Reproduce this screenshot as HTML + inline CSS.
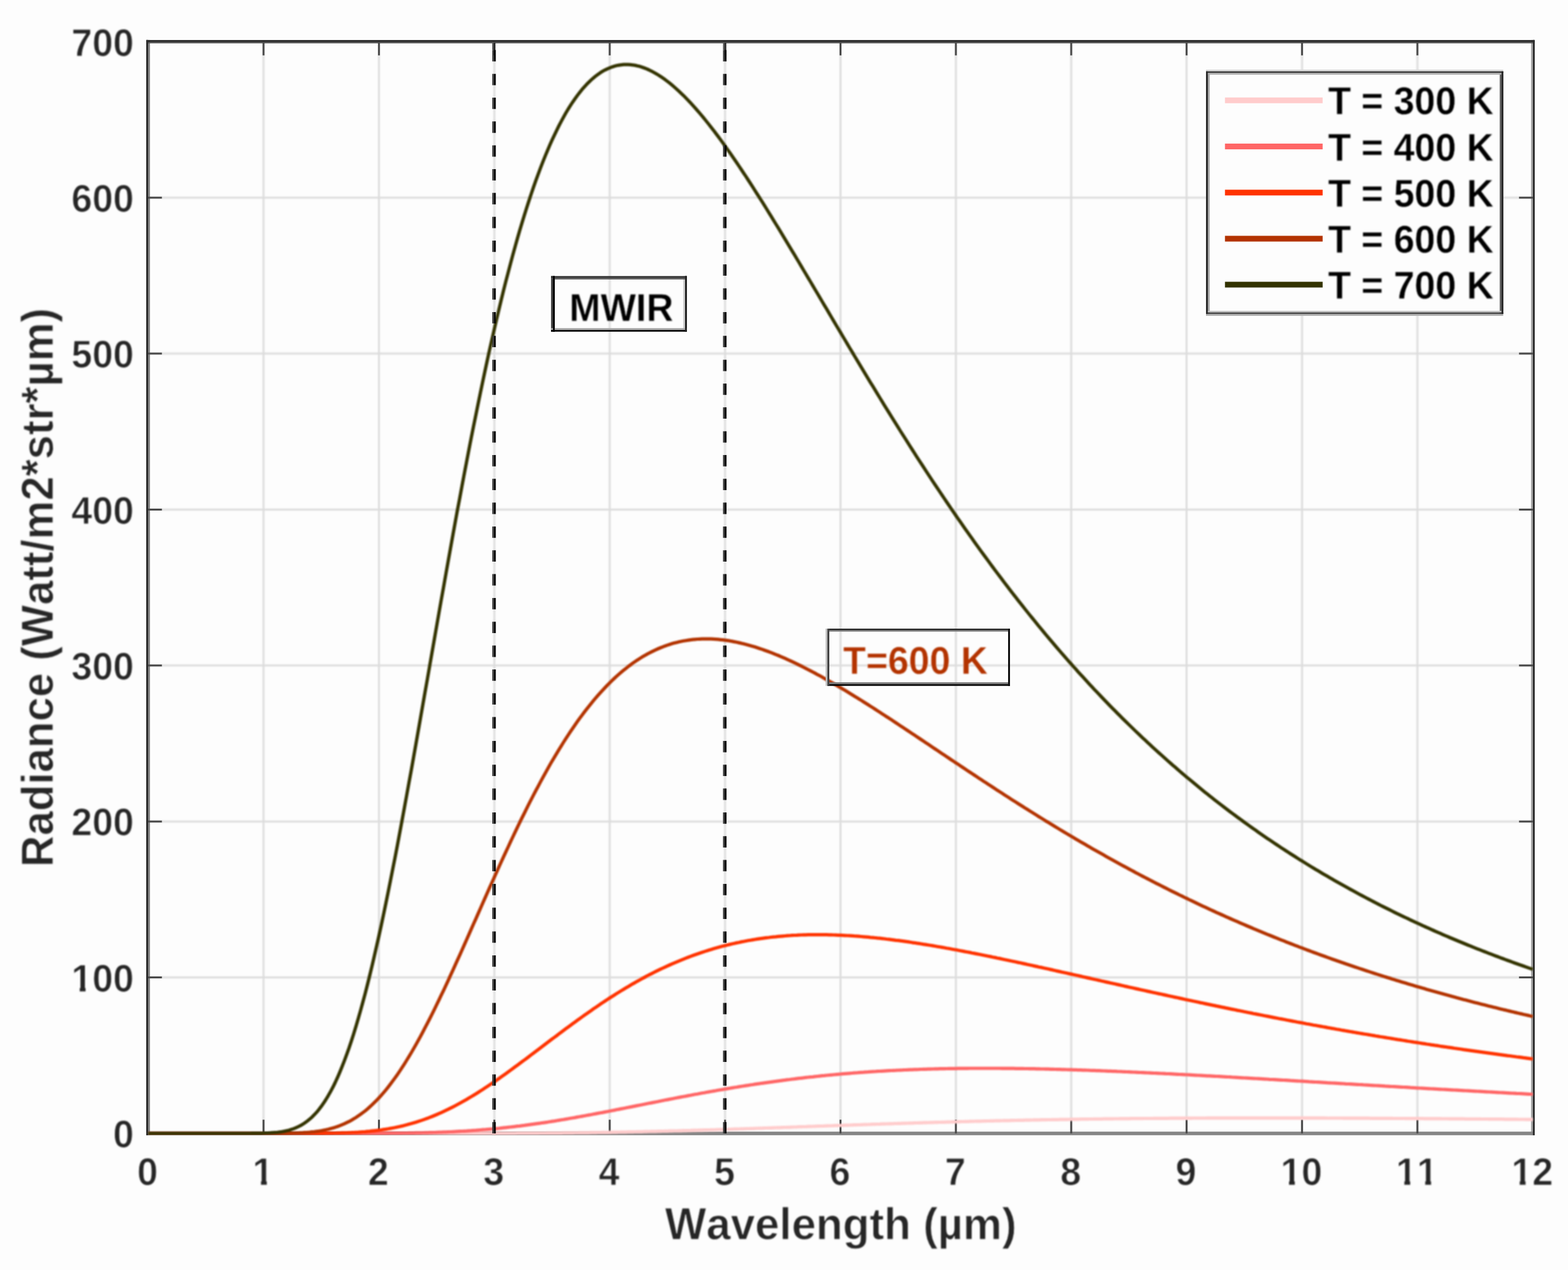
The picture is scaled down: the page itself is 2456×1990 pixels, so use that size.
<!DOCTYPE html>
<html lang="en">
<head>
<meta charset="utf-8">
<title>Blackbody radiance vs wavelength</title>
<style>
html,body{margin:0;padding:0;background:#fdfdfd;}
body{width:2456px;height:1990px;overflow:hidden;}
svg{display:block;}
text{font-family:"Liberation Sans",sans-serif;font-weight:bold;font-kerning:none;}
text{stroke-linejoin:round;}
.tk{font-size:58.8px;fill:#262626;stroke:#fdfdfd;stroke-width:1px;}
.lb{font-size:68.7px;fill:#262626;stroke:#fdfdfd;stroke-width:1px;}
.lg{font-size:58.7px;fill:#000;stroke:#fdfdfd;stroke-width:0.5px;}
.an{font-size:58.7px;stroke:#fdfdfd;stroke-width:0.5px;}
.sf{filter:blur(1px);}
</style>
</head>
<body>
<svg width="2456" height="1990" viewBox="0 0 2456 1990">
<defs><clipPath id="c1"><rect x="-21.4" y="-58.8" width="42.7" height="51.1"/><rect x="-3.1" y="-8.7" width="9.1" height="15.7"/></clipPath><clipPath id="c10"><rect x="-37.7" y="-58.8" width="75.4" height="51.1"/><rect x="-19.5" y="-8.7" width="9.1" height="15.7"/><rect x="-0.5" y="-8.7" width="33.7" height="15.7"/></clipPath><clipPath id="c11"><rect x="-37.7" y="-58.8" width="75.4" height="51.1"/><rect x="-19.5" y="-8.7" width="9.1" height="15.7"/><rect x="13.2" y="-8.7" width="9.1" height="15.7"/></clipPath><clipPath id="c12"><rect x="-37.7" y="-58.8" width="75.4" height="51.1"/><rect x="-19.5" y="-8.7" width="9.1" height="15.7"/><rect x="-0.5" y="-8.7" width="33.7" height="15.7"/></clipPath><clipPath id="c100"><rect x="-103.1" y="-58.8" width="108.1" height="51.1"/><rect x="-84.9" y="-8.7" width="9.1" height="15.7"/><rect x="-65.9" y="-8.7" width="33.7" height="15.7"/><rect x="-33.2" y="-8.7" width="33.7" height="15.7"/></clipPath></defs>
<defs><clipPath id="pc"><rect x="229.1" y="62.3" width="2174.5" height="1716.5"/></clipPath></defs>
<rect x="0" y="0" width="2456" height="1990" fill="#fdfdfd"/>
<rect x="232.1" y="65.3" width="2168.7" height="1710.7" fill="#fdfdfd"/>
<path id="grid" class="sf" d="M412.8 65.3V1776M593.6 65.3V1776M774.3 65.3V1776M955 65.3V1776M1135.7 65.3V1776M1316.5 65.3V1776M1497.2 65.3V1776M1677.9 65.3V1776M1858.6 65.3V1776M2039.4 65.3V1776M2220.1 65.3V1776M232.1 1531.6H2400.8M232.1 1287.2H2400.8M232.1 1042.8H2400.8M232.1 798.5H2400.8M232.1 554.1H2400.8M232.1 309.7H2400.8" stroke="#dcdcdc" stroke-width="3" fill="none"/>
<g id="axes">
<rect x="229.1" y="62.8" width="3" height="1716" fill="#2c2c2c"/><rect x="232.1" y="62.8" width="2.9" height="1716" fill="#888"/><rect x="2398" y="62.8" width="3" height="1716" fill="#a8a8a8"/><rect x="2401" y="62.8" width="2.7" height="1716" fill="#2c2c2c"/><rect x="229.1" y="62.8" width="2174.6" height="3" fill="#1e1e1e"/><rect x="229.1" y="65.8" width="2174.6" height="2.1" fill="#555"/><rect x="229.1" y="1773.2" width="2174.6" height="5.6" fill="#868686"/><rect x="229.1" y="62.8" width="3" height="1716" fill="#2c2c2c"/><rect x="2401" y="62.8" width="2.7" height="1716" fill="#2c2c2c"/>
<path id="ticks" d="M412.8 1776v-21.5M412.8 65.3v21.5M593.6 1776v-21.5M593.6 65.3v21.5M774.3 1776v-21.5M774.3 65.3v21.5M955 1776v-21.5M955 65.3v21.5M1135.7 1776v-21.5M1135.7 65.3v21.5M1316.5 1776v-21.5M1316.5 65.3v21.5M1497.2 1776v-21.5M1497.2 65.3v21.5M1677.9 1776v-21.5M1677.9 65.3v21.5M1858.6 1776v-21.5M1858.6 65.3v21.5M2039.4 1776v-21.5M2039.4 65.3v21.5M2220.1 1776v-21.5M2220.1 65.3v21.5M232.1 1531.6h21.5M2400.8 1531.6h-21.5M232.1 1287.2h21.5M2400.8 1287.2h-21.5M232.1 1042.8h21.5M2400.8 1042.8h-21.5M232.1 798.5h21.5M2400.8 798.5h-21.5M232.1 554.1h21.5M2400.8 554.1h-21.5M232.1 309.7h21.5M2400.8 309.7h-21.5" stroke="#4a4a4a" stroke-width="3" fill="none"/>
</g>
<g clip-path="url(#pc)"><g id="curves" class="sf" fill="none" stroke-width="5.2" stroke-linejoin="round">
<path d="M232.1 1776L235.7 1776L239.3 1776L242.9 1776L246.6 1776L250.2 1776L253.8 1776L257.4 1776L261 1776L264.6 1776L268.2 1776L271.9 1776L275.5 1776L279.1 1776L282.7 1776L286.3 1776L289.9 1776L293.5 1776L297.2 1776L300.8 1776L304.4 1776L308 1776L311.6 1776L315.2 1776L318.8 1776L322.5 1776L326.1 1776L329.7 1776L333.3 1776L336.9 1776L340.5 1776L344.1 1776L347.8 1776L351.4 1776L355 1776L358.6 1776L362.2 1776L365.8 1776L369.5 1776L373.1 1776L376.7 1776L380.3 1776L383.9 1776L387.5 1776L391.1 1776L394.8 1776L398.4 1776L402 1776L405.6 1776L409.2 1776L412.8 1776L416.4 1776L420.1 1776L423.7 1776L427.3 1776L430.9 1776L434.5 1776L438.1 1776L441.7 1776L445.4 1776L449 1776L452.6 1776L456.2 1776L459.8 1776L463.4 1776L467 1776L470.7 1776L474.3 1776L477.9 1776L481.5 1776L485.1 1776L488.7 1776L492.3 1776L496 1776L499.6 1776L503.2 1776L506.8 1776L510.4 1776L514 1776L517.6 1776L521.3 1776L524.9 1776L528.5 1776L532.1 1776L535.7 1776L539.3 1776L542.9 1776L546.6 1776L550.2 1776L553.8 1776L557.4 1776L561 1776L564.6 1776L568.2 1776L571.9 1776L575.5 1776L579.1 1776L582.7 1776L586.3 1776L589.9 1776L593.6 1776L597.2 1776L600.8 1776L604.4 1776L608 1776L611.6 1776L615.2 1776L618.9 1776L622.5 1776L626.1 1776L629.7 1776L633.3 1776L636.9 1776L640.5 1776L644.2 1776L647.8 1776L651.4 1776L655 1776L658.6 1776L662.2 1776L665.8 1776L669.5 1776L673.1 1776L676.7 1776L680.3 1776L683.9 1776L687.5 1776L691.1 1776L694.8 1776L698.4 1776L702 1776L705.6 1776L709.2 1776L712.8 1776L716.4 1776L720.1 1776L723.7 1776L727.3 1776L730.9 1775.9L734.5 1775.9L738.1 1775.9L741.7 1775.9L745.4 1775.9L749 1775.9L752.6 1775.9L756.2 1775.9L759.8 1775.9L763.4 1775.9L767 1775.9L770.7 1775.9L774.3 1775.9L777.9 1775.9L781.5 1775.8L785.1 1775.8L788.7 1775.8L792.3 1775.8L796 1775.8L799.6 1775.8L803.2 1775.8L806.8 1775.8L810.4 1775.7L814 1775.7L817.6 1775.7L821.3 1775.7L824.9 1775.7L828.5 1775.6L832.1 1775.6L835.7 1775.6L839.3 1775.6L843 1775.6L846.6 1775.5L850.2 1775.5L853.8 1775.5L857.4 1775.4L861 1775.4L864.6 1775.4L868.3 1775.4L871.9 1775.3L875.5 1775.3L879.1 1775.3L882.7 1775.2L886.3 1775.2L889.9 1775.1L893.6 1775.1L897.2 1775.1L900.8 1775L904.4 1775L908 1774.9L911.6 1774.9L915.2 1774.9L918.9 1774.8L922.5 1774.8L926.1 1774.7L929.7 1774.7L933.3 1774.6L936.9 1774.5L940.5 1774.5L944.2 1774.4L947.8 1774.4L951.4 1774.3L955 1774.3L958.6 1774.2L962.2 1774.1L965.8 1774.1L969.5 1774L973.1 1773.9L976.7 1773.9L980.3 1773.8L983.9 1773.7L987.5 1773.7L991.1 1773.6L994.8 1773.5L998.4 1773.4L1002 1773.4L1005.6 1773.3L1009.2 1773.2L1012.8 1773.1L1016.4 1773L1020.1 1772.9L1023.7 1772.9L1027.3 1772.8L1030.9 1772.7L1034.5 1772.6L1038.1 1772.5L1041.7 1772.4L1045.4 1772.3L1049 1772.2L1052.6 1772.1L1056.2 1772L1059.8 1772L1063.4 1771.9L1067 1771.8L1070.7 1771.7L1074.3 1771.6L1077.9 1771.5L1081.5 1771.4L1085.1 1771.2L1088.7 1771.1L1092.4 1771L1096 1770.9L1099.6 1770.8L1103.2 1770.7L1106.8 1770.6L1110.4 1770.5L1114 1770.4L1117.7 1770.3L1121.3 1770.2L1124.9 1770L1128.5 1769.9L1132.1 1769.8L1135.7 1769.7L1139.3 1769.6L1143 1769.5L1146.6 1769.3L1150.2 1769.2L1153.8 1769.1L1157.4 1769L1161 1768.9L1164.6 1768.8L1168.3 1768.6L1171.9 1768.5L1175.5 1768.4L1179.1 1768.3L1182.7 1768.1L1186.3 1768L1189.9 1767.9L1193.6 1767.8L1197.2 1767.6L1200.8 1767.5L1204.4 1767.4L1208 1767.3L1211.6 1767.1L1215.2 1767L1218.9 1766.9L1222.5 1766.8L1226.1 1766.6L1229.7 1766.5L1233.3 1766.4L1236.9 1766.3L1240.5 1766.1L1244.2 1766L1247.8 1765.9L1251.4 1765.7L1255 1765.6L1258.6 1765.5L1262.2 1765.4L1265.8 1765.2L1269.5 1765.1L1273.1 1765L1276.7 1764.8L1280.3 1764.7L1283.9 1764.6L1287.5 1764.5L1291.1 1764.3L1294.8 1764.2L1298.4 1764.1L1302 1764L1305.6 1763.8L1309.2 1763.7L1312.8 1763.6L1316.5 1763.5L1320.1 1763.3L1323.7 1763.2L1327.3 1763.1L1330.9 1763L1334.5 1762.8L1338.1 1762.7L1341.8 1762.6L1345.4 1762.5L1349 1762.3L1352.6 1762.2L1356.2 1762.1L1359.8 1762L1363.4 1761.8L1367.1 1761.7L1370.7 1761.6L1374.3 1761.5L1377.9 1761.4L1381.5 1761.2L1385.1 1761.1L1388.7 1761L1392.4 1760.9L1396 1760.8L1399.6 1760.7L1403.2 1760.5L1406.8 1760.4L1410.4 1760.3L1414 1760.2L1417.7 1760.1L1421.3 1760L1424.9 1759.9L1428.5 1759.8L1432.1 1759.6L1435.7 1759.5L1439.3 1759.4L1443 1759.3L1446.6 1759.2L1450.2 1759.1L1453.8 1759L1457.4 1758.9L1461 1758.8L1464.6 1758.7L1468.3 1758.6L1471.9 1758.5L1475.5 1758.4L1479.1 1758.3L1482.7 1758.2L1486.3 1758.1L1489.9 1758L1493.6 1757.9L1497.2 1757.8L1500.8 1757.7L1504.4 1757.6L1508 1757.5L1511.6 1757.4L1515.2 1757.3L1518.9 1757.2L1522.5 1757.1L1526.1 1757L1529.7 1756.9L1533.3 1756.8L1536.9 1756.8L1540.5 1756.7L1544.2 1756.6L1547.8 1756.5L1551.4 1756.4L1555 1756.3L1558.6 1756.2L1562.2 1756.2L1565.9 1756.1L1569.5 1756L1573.1 1755.9L1576.7 1755.8L1580.3 1755.8L1583.9 1755.7L1587.5 1755.6L1591.2 1755.5L1594.8 1755.4L1598.4 1755.4L1602 1755.3L1605.6 1755.2L1609.2 1755.2L1612.8 1755.1L1616.5 1755L1620.1 1754.9L1623.7 1754.9L1627.3 1754.8L1630.9 1754.7L1634.5 1754.7L1638.1 1754.6L1641.8 1754.5L1645.4 1754.5L1649 1754.4L1652.6 1754.3L1656.2 1754.3L1659.8 1754.2L1663.4 1754.2L1667.1 1754.1L1670.7 1754.1L1674.3 1754L1677.9 1753.9L1681.5 1753.9L1685.1 1753.8L1688.7 1753.8L1692.4 1753.7L1696 1753.7L1699.6 1753.6L1703.2 1753.6L1706.8 1753.5L1710.4 1753.5L1714 1753.4L1717.7 1753.4L1721.3 1753.3L1724.9 1753.3L1728.5 1753.2L1732.1 1753.2L1735.7 1753.1L1739.3 1753.1L1743 1753.1L1746.6 1753L1750.2 1753L1753.8 1752.9L1757.4 1752.9L1761 1752.9L1764.6 1752.8L1768.3 1752.8L1771.9 1752.7L1775.5 1752.7L1779.1 1752.7L1782.7 1752.6L1786.3 1752.6L1789.9 1752.6L1793.6 1752.5L1797.2 1752.5L1800.8 1752.5L1804.4 1752.5L1808 1752.4L1811.6 1752.4L1815.3 1752.4L1818.9 1752.3L1822.5 1752.3L1826.1 1752.3L1829.7 1752.3L1833.3 1752.2L1836.9 1752.2L1840.6 1752.2L1844.2 1752.2L1847.8 1752.2L1851.4 1752.1L1855 1752.1L1858.6 1752.1L1862.2 1752.1L1865.9 1752.1L1869.5 1752L1873.1 1752L1876.7 1752L1880.3 1752L1883.9 1752L1887.5 1752L1891.2 1751.9L1894.8 1751.9L1898.4 1751.9L1902 1751.9L1905.6 1751.9L1909.2 1751.9L1912.8 1751.9L1916.5 1751.9L1920.1 1751.9L1923.7 1751.8L1927.3 1751.8L1930.9 1751.8L1934.5 1751.8L1938.1 1751.8L1941.8 1751.8L1945.4 1751.8L1949 1751.8L1952.6 1751.8L1956.2 1751.8L1959.8 1751.8L1963.4 1751.8L1967.1 1751.8L1970.7 1751.8L1974.3 1751.8L1977.9 1751.8L1981.5 1751.8L1985.1 1751.8L1988.7 1751.8L1992.4 1751.8L1996 1751.8L1999.6 1751.8L2003.2 1751.8L2006.8 1751.8L2010.4 1751.8L2014 1751.8L2017.7 1751.8L2021.3 1751.8L2024.9 1751.8L2028.5 1751.8L2032.1 1751.8L2035.7 1751.8L2039.4 1751.8L2043 1751.9L2046.6 1751.9L2050.2 1751.9L2053.8 1751.9L2057.4 1751.9L2061 1751.9L2064.7 1751.9L2068.3 1751.9L2071.9 1751.9L2075.5 1751.9L2079.1 1752L2082.7 1752L2086.3 1752L2090 1752L2093.6 1752L2097.2 1752L2100.8 1752L2104.4 1752.1L2108 1752.1L2111.6 1752.1L2115.3 1752.1L2118.9 1752.1L2122.5 1752.1L2126.1 1752.1L2129.7 1752.2L2133.3 1752.2L2136.9 1752.2L2140.6 1752.2L2144.2 1752.2L2147.8 1752.3L2151.4 1752.3L2155 1752.3L2158.6 1752.3L2162.2 1752.3L2165.9 1752.4L2169.5 1752.4L2173.1 1752.4L2176.7 1752.4L2180.3 1752.4L2183.9 1752.5L2187.5 1752.5L2191.2 1752.5L2194.8 1752.5L2198.4 1752.5L2202 1752.6L2205.6 1752.6L2209.2 1752.6L2212.8 1752.6L2216.5 1752.7L2220.1 1752.7L2223.7 1752.7L2227.3 1752.7L2230.9 1752.8L2234.5 1752.8L2238.1 1752.8L2241.8 1752.8L2245.4 1752.9L2249 1752.9L2252.6 1752.9L2256.2 1752.9L2259.8 1753L2263.4 1753L2267.1 1753L2270.7 1753.1L2274.3 1753.1L2277.9 1753.1L2281.5 1753.1L2285.1 1753.2L2288.8 1753.2L2292.4 1753.2L2296 1753.3L2299.6 1753.3L2303.2 1753.3L2306.8 1753.3L2310.4 1753.4L2314.1 1753.4L2317.7 1753.4L2321.3 1753.5L2324.9 1753.5L2328.5 1753.5L2332.1 1753.6L2335.7 1753.6L2339.4 1753.6L2343 1753.7L2346.6 1753.7L2350.2 1753.7L2353.8 1753.7L2357.4 1753.8L2361 1753.8L2364.7 1753.8L2368.3 1753.9L2371.9 1753.9L2375.5 1753.9L2379.1 1754L2382.7 1754L2386.3 1754L2390 1754.1L2393.6 1754.1L2397.2 1754.1L2400.8 1754.2" stroke="#ffcccc"/>
<path d="M232.1 1776L235.7 1776L239.3 1776L242.9 1776L246.6 1776L250.2 1776L253.8 1776L257.4 1776L261 1776L264.6 1776L268.2 1776L271.9 1776L275.5 1776L279.1 1776L282.7 1776L286.3 1776L289.9 1776L293.5 1776L297.2 1776L300.8 1776L304.4 1776L308 1776L311.6 1776L315.2 1776L318.8 1776L322.5 1776L326.1 1776L329.7 1776L333.3 1776L336.9 1776L340.5 1776L344.1 1776L347.8 1776L351.4 1776L355 1776L358.6 1776L362.2 1776L365.8 1776L369.5 1776L373.1 1776L376.7 1776L380.3 1776L383.9 1776L387.5 1776L391.1 1776L394.8 1776L398.4 1776L402 1776L405.6 1776L409.2 1776L412.8 1776L416.4 1776L420.1 1776L423.7 1776L427.3 1776L430.9 1776L434.5 1776L438.1 1776L441.7 1776L445.4 1776L449 1776L452.6 1776L456.2 1776L459.8 1776L463.4 1776L467 1776L470.7 1776L474.3 1776L477.9 1776L481.5 1776L485.1 1776L488.7 1776L492.3 1776L496 1776L499.6 1776L503.2 1776L506.8 1776L510.4 1776L514 1776L517.6 1776L521.3 1776L524.9 1776L528.5 1776L532.1 1776L535.7 1776L539.3 1776L542.9 1776L546.6 1776L550.2 1776L553.8 1776L557.4 1776L561 1776L564.6 1776L568.2 1775.9L571.9 1775.9L575.5 1775.9L579.1 1775.9L582.7 1775.9L586.3 1775.9L589.9 1775.9L593.6 1775.9L597.2 1775.8L600.8 1775.8L604.4 1775.8L608 1775.8L611.6 1775.7L615.2 1775.7L618.9 1775.7L622.5 1775.6L626.1 1775.6L629.7 1775.6L633.3 1775.5L636.9 1775.5L640.5 1775.4L644.2 1775.3L647.8 1775.3L651.4 1775.2L655 1775.1L658.6 1775.1L662.2 1775L665.8 1774.9L669.5 1774.8L673.1 1774.7L676.7 1774.6L680.3 1774.5L683.9 1774.3L687.5 1774.2L691.1 1774.1L694.8 1773.9L698.4 1773.8L702 1773.6L705.6 1773.5L709.2 1773.3L712.8 1773.1L716.4 1772.9L720.1 1772.7L723.7 1772.5L727.3 1772.3L730.9 1772.1L734.5 1771.8L738.1 1771.6L741.7 1771.3L745.4 1771.1L749 1770.8L752.6 1770.5L756.2 1770.2L759.8 1770L763.4 1769.6L767 1769.3L770.7 1769L774.3 1768.7L777.9 1768.3L781.5 1768L785.1 1767.6L788.7 1767.2L792.3 1766.8L796 1766.4L799.6 1766L803.2 1765.6L806.8 1765.2L810.4 1764.7L814 1764.3L817.6 1763.8L821.3 1763.4L824.9 1762.9L828.5 1762.4L832.1 1761.9L835.7 1761.4L839.3 1760.9L843 1760.4L846.6 1759.9L850.2 1759.3L853.8 1758.8L857.4 1758.3L861 1757.7L864.6 1757.1L868.3 1756.6L871.9 1756L875.5 1755.4L879.1 1754.8L882.7 1754.2L886.3 1753.6L889.9 1753L893.6 1752.3L897.2 1751.7L900.8 1751.1L904.4 1750.4L908 1749.8L911.6 1749.1L915.2 1748.5L918.9 1747.8L922.5 1747.1L926.1 1746.5L929.7 1745.8L933.3 1745.1L936.9 1744.4L940.5 1743.7L944.2 1743.1L947.8 1742.4L951.4 1741.7L955 1741L958.6 1740.3L962.2 1739.6L965.8 1738.8L969.5 1738.1L973.1 1737.4L976.7 1736.7L980.3 1736L983.9 1735.3L987.5 1734.6L991.1 1733.9L994.8 1733.1L998.4 1732.4L1002 1731.7L1005.6 1731L1009.2 1730.3L1012.8 1729.5L1016.4 1728.8L1020.1 1728.1L1023.7 1727.4L1027.3 1726.7L1030.9 1726L1034.5 1725.2L1038.1 1724.5L1041.7 1723.8L1045.4 1723.1L1049 1722.4L1052.6 1721.7L1056.2 1721L1059.8 1720.3L1063.4 1719.6L1067 1718.9L1070.7 1718.2L1074.3 1717.6L1077.9 1716.9L1081.5 1716.2L1085.1 1715.5L1088.7 1714.8L1092.4 1714.2L1096 1713.5L1099.6 1712.8L1103.2 1712.2L1106.8 1711.5L1110.4 1710.9L1114 1710.2L1117.7 1709.6L1121.3 1709L1124.9 1708.3L1128.5 1707.7L1132.1 1707.1L1135.7 1706.5L1139.3 1705.9L1143 1705.2L1146.6 1704.6L1150.2 1704L1153.8 1703.5L1157.4 1702.9L1161 1702.3L1164.6 1701.7L1168.3 1701.1L1171.9 1700.6L1175.5 1700L1179.1 1699.5L1182.7 1698.9L1186.3 1698.4L1189.9 1697.9L1193.6 1697.3L1197.2 1696.8L1200.8 1696.3L1204.4 1695.8L1208 1695.3L1211.6 1694.8L1215.2 1694.3L1218.9 1693.8L1222.5 1693.3L1226.1 1692.8L1229.7 1692.4L1233.3 1691.9L1236.9 1691.5L1240.5 1691L1244.2 1690.6L1247.8 1690.1L1251.4 1689.7L1255 1689.3L1258.6 1688.9L1262.2 1688.4L1265.8 1688L1269.5 1687.6L1273.1 1687.3L1276.7 1686.9L1280.3 1686.5L1283.9 1686.1L1287.5 1685.7L1291.1 1685.4L1294.8 1685L1298.4 1684.7L1302 1684.3L1305.6 1684L1309.2 1683.7L1312.8 1683.3L1316.5 1683L1320.1 1682.7L1323.7 1682.4L1327.3 1682.1L1330.9 1681.8L1334.5 1681.5L1338.1 1681.2L1341.8 1681L1345.4 1680.7L1349 1680.4L1352.6 1680.2L1356.2 1679.9L1359.8 1679.7L1363.4 1679.4L1367.1 1679.2L1370.7 1679L1374.3 1678.7L1377.9 1678.5L1381.5 1678.3L1385.1 1678.1L1388.7 1677.9L1392.4 1677.7L1396 1677.5L1399.6 1677.3L1403.2 1677.2L1406.8 1677L1410.4 1676.8L1414 1676.7L1417.7 1676.5L1421.3 1676.3L1424.9 1676.2L1428.5 1676.1L1432.1 1675.9L1435.7 1675.8L1439.3 1675.7L1443 1675.5L1446.6 1675.4L1450.2 1675.3L1453.8 1675.2L1457.4 1675.1L1461 1675L1464.6 1674.9L1468.3 1674.8L1471.9 1674.7L1475.5 1674.7L1479.1 1674.6L1482.7 1674.5L1486.3 1674.4L1489.9 1674.4L1493.6 1674.3L1497.2 1674.3L1500.8 1674.2L1504.4 1674.2L1508 1674.1L1511.6 1674.1L1515.2 1674.1L1518.9 1674L1522.5 1674L1526.1 1674L1529.7 1674L1533.3 1674L1536.9 1674L1540.5 1674L1544.2 1674L1547.8 1674L1551.4 1674L1555 1674L1558.6 1674L1562.2 1674L1565.9 1674L1569.5 1674.1L1573.1 1674.1L1576.7 1674.1L1580.3 1674.1L1583.9 1674.2L1587.5 1674.2L1591.2 1674.3L1594.8 1674.3L1598.4 1674.4L1602 1674.4L1605.6 1674.5L1609.2 1674.5L1612.8 1674.6L1616.5 1674.7L1620.1 1674.7L1623.7 1674.8L1627.3 1674.9L1630.9 1675L1634.5 1675L1638.1 1675.1L1641.8 1675.2L1645.4 1675.3L1649 1675.4L1652.6 1675.5L1656.2 1675.6L1659.8 1675.7L1663.4 1675.8L1667.1 1675.9L1670.7 1676L1674.3 1676.1L1677.9 1676.2L1681.5 1676.3L1685.1 1676.4L1688.7 1676.6L1692.4 1676.7L1696 1676.8L1699.6 1676.9L1703.2 1677L1706.8 1677.2L1710.4 1677.3L1714 1677.4L1717.7 1677.6L1721.3 1677.7L1724.9 1677.8L1728.5 1678L1732.1 1678.1L1735.7 1678.3L1739.3 1678.4L1743 1678.6L1746.6 1678.7L1750.2 1678.9L1753.8 1679L1757.4 1679.2L1761 1679.3L1764.6 1679.5L1768.3 1679.6L1771.9 1679.8L1775.5 1680L1779.1 1680.1L1782.7 1680.3L1786.3 1680.5L1789.9 1680.6L1793.6 1680.8L1797.2 1681L1800.8 1681.1L1804.4 1681.3L1808 1681.5L1811.6 1681.6L1815.3 1681.8L1818.9 1682L1822.5 1682.2L1826.1 1682.4L1829.7 1682.5L1833.3 1682.7L1836.9 1682.9L1840.6 1683.1L1844.2 1683.3L1847.8 1683.5L1851.4 1683.6L1855 1683.8L1858.6 1684L1862.2 1684.2L1865.9 1684.4L1869.5 1684.6L1873.1 1684.8L1876.7 1685L1880.3 1685.2L1883.9 1685.4L1887.5 1685.6L1891.2 1685.8L1894.8 1685.9L1898.4 1686.1L1902 1686.3L1905.6 1686.5L1909.2 1686.7L1912.8 1686.9L1916.5 1687.1L1920.1 1687.3L1923.7 1687.5L1927.3 1687.7L1930.9 1688L1934.5 1688.2L1938.1 1688.4L1941.8 1688.6L1945.4 1688.8L1949 1689L1952.6 1689.2L1956.2 1689.4L1959.8 1689.6L1963.4 1689.8L1967.1 1690L1970.7 1690.2L1974.3 1690.4L1977.9 1690.6L1981.5 1690.8L1985.1 1691L1988.7 1691.3L1992.4 1691.5L1996 1691.7L1999.6 1691.9L2003.2 1692.1L2006.8 1692.3L2010.4 1692.5L2014 1692.7L2017.7 1692.9L2021.3 1693.2L2024.9 1693.4L2028.5 1693.6L2032.1 1693.8L2035.7 1694L2039.4 1694.2L2043 1694.4L2046.6 1694.6L2050.2 1694.9L2053.8 1695.1L2057.4 1695.3L2061 1695.5L2064.7 1695.7L2068.3 1695.9L2071.9 1696.1L2075.5 1696.3L2079.1 1696.6L2082.7 1696.8L2086.3 1697L2090 1697.2L2093.6 1697.4L2097.2 1697.6L2100.8 1697.8L2104.4 1698L2108 1698.3L2111.6 1698.5L2115.3 1698.7L2118.9 1698.9L2122.5 1699.1L2126.1 1699.3L2129.7 1699.5L2133.3 1699.7L2136.9 1700L2140.6 1700.2L2144.2 1700.4L2147.8 1700.6L2151.4 1700.8L2155 1701L2158.6 1701.2L2162.2 1701.4L2165.9 1701.6L2169.5 1701.9L2173.1 1702.1L2176.7 1702.3L2180.3 1702.5L2183.9 1702.7L2187.5 1702.9L2191.2 1703.1L2194.8 1703.3L2198.4 1703.5L2202 1703.7L2205.6 1703.9L2209.2 1704.2L2212.8 1704.4L2216.5 1704.6L2220.1 1704.8L2223.7 1705L2227.3 1705.2L2230.9 1705.4L2234.5 1705.6L2238.1 1705.8L2241.8 1706L2245.4 1706.2L2249 1706.4L2252.6 1706.6L2256.2 1706.8L2259.8 1707L2263.4 1707.2L2267.1 1707.4L2270.7 1707.6L2274.3 1707.8L2277.9 1708L2281.5 1708.2L2285.1 1708.4L2288.8 1708.6L2292.4 1708.8L2296 1709L2299.6 1709.2L2303.2 1709.4L2306.8 1709.6L2310.4 1709.8L2314.1 1710L2317.7 1710.2L2321.3 1710.4L2324.9 1710.6L2328.5 1710.8L2332.1 1711L2335.7 1711.2L2339.4 1711.4L2343 1711.6L2346.6 1711.8L2350.2 1712L2353.8 1712.2L2357.4 1712.4L2361 1712.6L2364.7 1712.8L2368.3 1713L2371.9 1713.2L2375.5 1713.4L2379.1 1713.5L2382.7 1713.7L2386.3 1713.9L2390 1714.1L2393.6 1714.3L2397.2 1714.5L2400.8 1714.7" stroke="#ff6666"/>
<path d="M232.1 1776L235.7 1776L239.3 1776L242.9 1776L246.6 1776L250.2 1776L253.8 1776L257.4 1776L261 1776L264.6 1776L268.2 1776L271.9 1776L275.5 1776L279.1 1776L282.7 1776L286.3 1776L289.9 1776L293.5 1776L297.2 1776L300.8 1776L304.4 1776L308 1776L311.6 1776L315.2 1776L318.8 1776L322.5 1776L326.1 1776L329.7 1776L333.3 1776L336.9 1776L340.5 1776L344.1 1776L347.8 1776L351.4 1776L355 1776L358.6 1776L362.2 1776L365.8 1776L369.5 1776L373.1 1776L376.7 1776L380.3 1776L383.9 1776L387.5 1776L391.1 1776L394.8 1776L398.4 1776L402 1776L405.6 1776L409.2 1776L412.8 1776L416.4 1776L420.1 1776L423.7 1776L427.3 1776L430.9 1776L434.5 1776L438.1 1776L441.7 1776L445.4 1776L449 1776L452.6 1776L456.2 1776L459.8 1776L463.4 1776L467 1776L470.7 1776L474.3 1776L477.9 1776L481.5 1776L485.1 1775.9L488.7 1775.9L492.3 1775.9L496 1775.9L499.6 1775.9L503.2 1775.8L506.8 1775.8L510.4 1775.7L514 1775.7L517.6 1775.6L521.3 1775.6L524.9 1775.5L528.5 1775.4L532.1 1775.3L535.7 1775.2L539.3 1775.1L542.9 1775L546.6 1774.8L550.2 1774.7L553.8 1774.5L557.4 1774.3L561 1774.1L564.6 1773.8L568.2 1773.5L571.9 1773.3L575.5 1772.9L579.1 1772.6L582.7 1772.2L586.3 1771.8L589.9 1771.4L593.6 1770.9L597.2 1770.5L600.8 1769.9L604.4 1769.4L608 1768.8L611.6 1768.1L615.2 1767.5L618.9 1766.8L622.5 1766L626.1 1765.2L629.7 1764.4L633.3 1763.5L636.9 1762.6L640.5 1761.6L644.2 1760.6L647.8 1759.5L651.4 1758.4L655 1757.3L658.6 1756.1L662.2 1754.9L665.8 1753.6L669.5 1752.3L673.1 1750.9L676.7 1749.5L680.3 1748L683.9 1746.5L687.5 1744.9L691.1 1743.3L694.8 1741.6L698.4 1739.9L702 1738.2L705.6 1736.4L709.2 1734.6L712.8 1732.7L716.4 1730.8L720.1 1728.8L723.7 1726.8L727.3 1724.8L730.9 1722.7L734.5 1720.6L738.1 1718.4L741.7 1716.2L745.4 1714L749 1711.7L752.6 1709.4L756.2 1707.1L759.8 1704.7L763.4 1702.3L767 1699.9L770.7 1697.5L774.3 1695L777.9 1692.5L781.5 1690L785.1 1687.4L788.7 1684.9L792.3 1682.3L796 1679.7L799.6 1677L803.2 1674.4L806.8 1671.7L810.4 1669.1L814 1666.4L817.6 1663.7L821.3 1661L824.9 1658.3L828.5 1655.6L832.1 1652.8L835.7 1650.1L839.3 1647.4L843 1644.6L846.6 1641.9L850.2 1639.2L853.8 1636.4L857.4 1633.7L861 1630.9L864.6 1628.2L868.3 1625.5L871.9 1622.8L875.5 1620L879.1 1617.3L882.7 1614.6L886.3 1611.9L889.9 1609.3L893.6 1606.6L897.2 1603.9L900.8 1601.3L904.4 1598.7L908 1596.1L911.6 1593.5L915.2 1590.9L918.9 1588.3L922.5 1585.8L926.1 1583.3L929.7 1580.7L933.3 1578.3L936.9 1575.8L940.5 1573.3L944.2 1570.9L947.8 1568.5L951.4 1566.1L955 1563.8L958.6 1561.5L962.2 1559.2L965.8 1556.9L969.5 1554.6L973.1 1552.4L976.7 1550.2L980.3 1548L983.9 1545.9L987.5 1543.7L991.1 1541.6L994.8 1539.6L998.4 1537.5L1002 1535.5L1005.6 1533.5L1009.2 1531.6L1012.8 1529.6L1016.4 1527.7L1020.1 1525.9L1023.7 1524L1027.3 1522.2L1030.9 1520.4L1034.5 1518.7L1038.1 1517L1041.7 1515.3L1045.4 1513.6L1049 1512L1052.6 1510.4L1056.2 1508.8L1059.8 1507.3L1063.4 1505.8L1067 1504.3L1070.7 1502.8L1074.3 1501.4L1077.9 1500L1081.5 1498.6L1085.1 1497.3L1088.7 1496L1092.4 1494.7L1096 1493.5L1099.6 1492.3L1103.2 1491.1L1106.8 1489.9L1110.4 1488.8L1114 1487.7L1117.7 1486.6L1121.3 1485.6L1124.9 1484.6L1128.5 1483.6L1132.1 1482.6L1135.7 1481.7L1139.3 1480.8L1143 1479.9L1146.6 1479L1150.2 1478.2L1153.8 1477.4L1157.4 1476.7L1161 1475.9L1164.6 1475.2L1168.3 1474.5L1171.9 1473.8L1175.5 1473.2L1179.1 1472.6L1182.7 1472L1186.3 1471.4L1189.9 1470.9L1193.6 1470.4L1197.2 1469.9L1200.8 1469.4L1204.4 1469L1208 1468.5L1211.6 1468.1L1215.2 1467.8L1218.9 1467.4L1222.5 1467.1L1226.1 1466.8L1229.7 1466.5L1233.3 1466.2L1236.9 1466L1240.5 1465.7L1244.2 1465.5L1247.8 1465.4L1251.4 1465.2L1255 1465L1258.6 1464.9L1262.2 1464.8L1265.8 1464.7L1269.5 1464.7L1273.1 1464.6L1276.7 1464.6L1280.3 1464.6L1283.9 1464.6L1287.5 1464.6L1291.1 1464.7L1294.8 1464.7L1298.4 1464.8L1302 1464.9L1305.6 1465L1309.2 1465.1L1312.8 1465.3L1316.5 1465.4L1320.1 1465.6L1323.7 1465.8L1327.3 1466L1330.9 1466.2L1334.5 1466.4L1338.1 1466.7L1341.8 1466.9L1345.4 1467.2L1349 1467.5L1352.6 1467.8L1356.2 1468.1L1359.8 1468.4L1363.4 1468.8L1367.1 1469.1L1370.7 1469.5L1374.3 1469.9L1377.9 1470.2L1381.5 1470.6L1385.1 1471L1388.7 1471.5L1392.4 1471.9L1396 1472.3L1399.6 1472.8L1403.2 1473.3L1406.8 1473.7L1410.4 1474.2L1414 1474.7L1417.7 1475.2L1421.3 1475.7L1424.9 1476.2L1428.5 1476.8L1432.1 1477.3L1435.7 1477.9L1439.3 1478.4L1443 1479L1446.6 1479.6L1450.2 1480.1L1453.8 1480.7L1457.4 1481.3L1461 1481.9L1464.6 1482.5L1468.3 1483.2L1471.9 1483.8L1475.5 1484.4L1479.1 1485L1482.7 1485.7L1486.3 1486.3L1489.9 1487L1493.6 1487.7L1497.2 1488.3L1500.8 1489L1504.4 1489.7L1508 1490.4L1511.6 1491.1L1515.2 1491.7L1518.9 1492.4L1522.5 1493.2L1526.1 1493.9L1529.7 1494.6L1533.3 1495.3L1536.9 1496L1540.5 1496.7L1544.2 1497.5L1547.8 1498.2L1551.4 1498.9L1555 1499.7L1558.6 1500.4L1562.2 1501.2L1565.9 1501.9L1569.5 1502.7L1573.1 1503.5L1576.7 1504.2L1580.3 1505L1583.9 1505.8L1587.5 1506.5L1591.2 1507.3L1594.8 1508.1L1598.4 1508.8L1602 1509.6L1605.6 1510.4L1609.2 1511.2L1612.8 1512L1616.5 1512.8L1620.1 1513.6L1623.7 1514.4L1627.3 1515.2L1630.9 1515.9L1634.5 1516.7L1638.1 1517.5L1641.8 1518.3L1645.4 1519.1L1649 1519.9L1652.6 1520.8L1656.2 1521.6L1659.8 1522.4L1663.4 1523.2L1667.1 1524L1670.7 1524.8L1674.3 1525.6L1677.9 1526.4L1681.5 1527.2L1685.1 1528L1688.7 1528.8L1692.4 1529.6L1696 1530.5L1699.6 1531.3L1703.2 1532.1L1706.8 1532.9L1710.4 1533.7L1714 1534.5L1717.7 1535.3L1721.3 1536.1L1724.9 1537L1728.5 1537.8L1732.1 1538.6L1735.7 1539.4L1739.3 1540.2L1743 1541L1746.6 1541.8L1750.2 1542.6L1753.8 1543.4L1757.4 1544.2L1761 1545.1L1764.6 1545.9L1768.3 1546.7L1771.9 1547.5L1775.5 1548.3L1779.1 1549.1L1782.7 1549.9L1786.3 1550.7L1789.9 1551.5L1793.6 1552.3L1797.2 1553.1L1800.8 1553.9L1804.4 1554.7L1808 1555.5L1811.6 1556.3L1815.3 1557.1L1818.9 1557.8L1822.5 1558.6L1826.1 1559.4L1829.7 1560.2L1833.3 1561L1836.9 1561.8L1840.6 1562.6L1844.2 1563.3L1847.8 1564.1L1851.4 1564.9L1855 1565.7L1858.6 1566.5L1862.2 1567.2L1865.9 1568L1869.5 1568.8L1873.1 1569.5L1876.7 1570.3L1880.3 1571.1L1883.9 1571.8L1887.5 1572.6L1891.2 1573.4L1894.8 1574.1L1898.4 1574.9L1902 1575.6L1905.6 1576.4L1909.2 1577.1L1912.8 1577.9L1916.5 1578.6L1920.1 1579.4L1923.7 1580.1L1927.3 1580.9L1930.9 1581.6L1934.5 1582.3L1938.1 1583.1L1941.8 1583.8L1945.4 1584.5L1949 1585.3L1952.6 1586L1956.2 1586.7L1959.8 1587.4L1963.4 1588.2L1967.1 1588.9L1970.7 1589.6L1974.3 1590.3L1977.9 1591L1981.5 1591.7L1985.1 1592.4L1988.7 1593.1L1992.4 1593.9L1996 1594.6L1999.6 1595.3L2003.2 1596L2006.8 1596.6L2010.4 1597.3L2014 1598L2017.7 1598.7L2021.3 1599.4L2024.9 1600.1L2028.5 1600.8L2032.1 1601.5L2035.7 1602.1L2039.4 1602.8L2043 1603.5L2046.6 1604.2L2050.2 1604.8L2053.8 1605.5L2057.4 1606.2L2061 1606.8L2064.7 1607.5L2068.3 1608.1L2071.9 1608.8L2075.5 1609.4L2079.1 1610.1L2082.7 1610.7L2086.3 1611.4L2090 1612L2093.6 1612.7L2097.2 1613.3L2100.8 1614L2104.4 1614.6L2108 1615.2L2111.6 1615.9L2115.3 1616.5L2118.9 1617.1L2122.5 1617.7L2126.1 1618.4L2129.7 1619L2133.3 1619.6L2136.9 1620.2L2140.6 1620.8L2144.2 1621.4L2147.8 1622L2151.4 1622.6L2155 1623.3L2158.6 1623.9L2162.2 1624.5L2165.9 1625L2169.5 1625.6L2173.1 1626.2L2176.7 1626.8L2180.3 1627.4L2183.9 1628L2187.5 1628.6L2191.2 1629.2L2194.8 1629.7L2198.4 1630.3L2202 1630.9L2205.6 1631.5L2209.2 1632L2212.8 1632.6L2216.5 1633.2L2220.1 1633.7L2223.7 1634.3L2227.3 1634.9L2230.9 1635.4L2234.5 1636L2238.1 1636.5L2241.8 1637.1L2245.4 1637.6L2249 1638.2L2252.6 1638.7L2256.2 1639.3L2259.8 1639.8L2263.4 1640.3L2267.1 1640.9L2270.7 1641.4L2274.3 1641.9L2277.9 1642.5L2281.5 1643L2285.1 1643.5L2288.8 1644L2292.4 1644.6L2296 1645.1L2299.6 1645.6L2303.2 1646.1L2306.8 1646.6L2310.4 1647.1L2314.1 1647.6L2317.7 1648.1L2321.3 1648.6L2324.9 1649.1L2328.5 1649.6L2332.1 1650.1L2335.7 1650.6L2339.4 1651.1L2343 1651.6L2346.6 1652.1L2350.2 1652.6L2353.8 1653.1L2357.4 1653.6L2361 1654.1L2364.7 1654.5L2368.3 1655L2371.9 1655.5L2375.5 1656L2379.1 1656.4L2382.7 1656.9L2386.3 1657.4L2390 1657.8L2393.6 1658.3L2397.2 1658.8L2400.8 1659.2" stroke="#ff3300"/>
<path d="M232.1 1776L235.7 1776L239.3 1776L242.9 1776L246.6 1776L250.2 1776L253.8 1776L257.4 1776L261 1776L264.6 1776L268.2 1776L271.9 1776L275.5 1776L279.1 1776L282.7 1776L286.3 1776L289.9 1776L293.5 1776L297.2 1776L300.8 1776L304.4 1776L308 1776L311.6 1776L315.2 1776L318.8 1776L322.5 1776L326.1 1776L329.7 1776L333.3 1776L336.9 1776L340.5 1776L344.1 1776L347.8 1776L351.4 1776L355 1776L358.6 1776L362.2 1776L365.8 1776L369.5 1776L373.1 1776L376.7 1776L380.3 1776L383.9 1776L387.5 1776L391.1 1776L394.8 1776L398.4 1776L402 1776L405.6 1776L409.2 1776L412.8 1776L416.4 1776L420.1 1776L423.7 1776L427.3 1776L430.9 1775.9L434.5 1775.9L438.1 1775.9L441.7 1775.9L445.4 1775.8L449 1775.8L452.6 1775.7L456.2 1775.6L459.8 1775.5L463.4 1775.4L467 1775.3L470.7 1775.1L474.3 1774.9L477.9 1774.6L481.5 1774.4L485.1 1774.1L488.7 1773.7L492.3 1773.3L496 1772.8L499.6 1772.3L503.2 1771.7L506.8 1771L510.4 1770.3L514 1769.5L517.6 1768.5L521.3 1767.5L524.9 1766.4L528.5 1765.2L532.1 1763.9L535.7 1762.4L539.3 1760.9L542.9 1759.2L546.6 1757.4L550.2 1755.4L553.8 1753.3L557.4 1751.1L561 1748.7L564.6 1746.2L568.2 1743.5L571.9 1740.7L575.5 1737.7L579.1 1734.5L582.7 1731.2L586.3 1727.7L589.9 1724.1L593.6 1720.2L597.2 1716.2L600.8 1712.1L604.4 1707.8L608 1703.3L611.6 1698.6L615.2 1693.8L618.9 1688.8L622.5 1683.7L626.1 1678.4L629.7 1672.9L633.3 1667.3L636.9 1661.5L640.5 1655.6L644.2 1649.5L647.8 1643.3L651.4 1637L655 1630.5L658.6 1623.9L662.2 1617.2L665.8 1610.3L669.5 1603.3L673.1 1596.3L676.7 1589.1L680.3 1581.8L683.9 1574.4L687.5 1567L691.1 1559.4L694.8 1551.8L698.4 1544.1L702 1536.3L705.6 1528.4L709.2 1520.6L712.8 1512.6L716.4 1504.6L720.1 1496.6L723.7 1488.5L727.3 1480.4L730.9 1472.3L734.5 1464.1L738.1 1455.9L741.7 1447.8L745.4 1439.6L749 1431.4L752.6 1423.2L756.2 1415L759.8 1406.9L763.4 1398.7L767 1390.6L770.7 1382.5L774.3 1374.5L777.9 1366.4L781.5 1358.4L785.1 1350.5L788.7 1342.6L792.3 1334.8L796 1327L799.6 1319.2L803.2 1311.5L806.8 1303.9L810.4 1296.4L814 1288.9L817.6 1281.5L821.3 1274.2L824.9 1266.9L828.5 1259.7L832.1 1252.6L835.7 1245.6L839.3 1238.7L843 1231.9L846.6 1225.1L850.2 1218.5L853.8 1211.9L857.4 1205.5L861 1199.1L864.6 1192.8L868.3 1186.7L871.9 1180.6L875.5 1174.6L879.1 1168.8L882.7 1163L886.3 1157.3L889.9 1151.8L893.6 1146.3L897.2 1141L900.8 1135.7L904.4 1130.6L908 1125.6L911.6 1120.7L915.2 1115.9L918.9 1111.1L922.5 1106.6L926.1 1102.1L929.7 1097.7L933.3 1093.4L936.9 1089.2L940.5 1085.2L944.2 1081.2L947.8 1077.4L951.4 1073.6L955 1070L958.6 1066.4L962.2 1063L965.8 1059.7L969.5 1056.4L973.1 1053.3L976.7 1050.3L980.3 1047.4L983.9 1044.5L987.5 1041.8L991.1 1039.2L994.8 1036.7L998.4 1034.2L1002 1031.9L1005.6 1029.6L1009.2 1027.5L1012.8 1025.4L1016.4 1023.5L1020.1 1021.6L1023.7 1019.8L1027.3 1018.1L1030.9 1016.5L1034.5 1015L1038.1 1013.6L1041.7 1012.2L1045.4 1010.9L1049 1009.7L1052.6 1008.6L1056.2 1007.6L1059.8 1006.7L1063.4 1005.8L1067 1005L1070.7 1004.3L1074.3 1003.7L1077.9 1003.1L1081.5 1002.6L1085.1 1002.2L1088.7 1001.8L1092.4 1001.5L1096 1001.3L1099.6 1001.2L1103.2 1001.1L1106.8 1001.1L1110.4 1001.1L1114 1001.2L1117.7 1001.4L1121.3 1001.6L1124.9 1001.9L1128.5 1002.3L1132.1 1002.7L1135.7 1003.2L1139.3 1003.7L1143 1004.2L1146.6 1004.9L1150.2 1005.6L1153.8 1006.3L1157.4 1007.1L1161 1007.9L1164.6 1008.8L1168.3 1009.7L1171.9 1010.7L1175.5 1011.7L1179.1 1012.7L1182.7 1013.8L1186.3 1015L1189.9 1016.2L1193.6 1017.4L1197.2 1018.7L1200.8 1020L1204.4 1021.3L1208 1022.7L1211.6 1024.1L1215.2 1025.6L1218.9 1027L1222.5 1028.6L1226.1 1030.1L1229.7 1031.7L1233.3 1033.3L1236.9 1035L1240.5 1036.6L1244.2 1038.4L1247.8 1040.1L1251.4 1041.9L1255 1043.6L1258.6 1045.5L1262.2 1047.3L1265.8 1049.2L1269.5 1051.1L1273.1 1053L1276.7 1054.9L1280.3 1056.9L1283.9 1058.8L1287.5 1060.8L1291.1 1062.9L1294.8 1064.9L1298.4 1067L1302 1069L1305.6 1071.1L1309.2 1073.2L1312.8 1075.4L1316.5 1077.5L1320.1 1079.7L1323.7 1081.8L1327.3 1084L1330.9 1086.2L1334.5 1088.5L1338.1 1090.7L1341.8 1092.9L1345.4 1095.2L1349 1097.4L1352.6 1099.7L1356.2 1102L1359.8 1104.3L1363.4 1106.6L1367.1 1108.9L1370.7 1111.2L1374.3 1113.6L1377.9 1115.9L1381.5 1118.3L1385.1 1120.6L1388.7 1123L1392.4 1125.3L1396 1127.7L1399.6 1130.1L1403.2 1132.5L1406.8 1134.9L1410.4 1137.3L1414 1139.7L1417.7 1142.1L1421.3 1144.5L1424.9 1146.9L1428.5 1149.3L1432.1 1151.7L1435.7 1154.1L1439.3 1156.5L1443 1159L1446.6 1161.4L1450.2 1163.8L1453.8 1166.2L1457.4 1168.7L1461 1171.1L1464.6 1173.5L1468.3 1175.9L1471.9 1178.4L1475.5 1180.8L1479.1 1183.2L1482.7 1185.6L1486.3 1188L1489.9 1190.5L1493.6 1192.9L1497.2 1195.3L1500.8 1197.7L1504.4 1200.1L1508 1202.5L1511.6 1204.9L1515.2 1207.3L1518.9 1209.7L1522.5 1212.1L1526.1 1214.5L1529.7 1216.9L1533.3 1219.3L1536.9 1221.7L1540.5 1224.1L1544.2 1226.4L1547.8 1228.8L1551.4 1231.2L1555 1233.5L1558.6 1235.9L1562.2 1238.3L1565.9 1240.6L1569.5 1242.9L1573.1 1245.3L1576.7 1247.6L1580.3 1249.9L1583.9 1252.3L1587.5 1254.6L1591.2 1256.9L1594.8 1259.2L1598.4 1261.5L1602 1263.8L1605.6 1266.1L1609.2 1268.3L1612.8 1270.6L1616.5 1272.9L1620.1 1275.1L1623.7 1277.4L1627.3 1279.7L1630.9 1281.9L1634.5 1284.1L1638.1 1286.4L1641.8 1288.6L1645.4 1290.8L1649 1293L1652.6 1295.2L1656.2 1297.4L1659.8 1299.6L1663.4 1301.7L1667.1 1303.9L1670.7 1306.1L1674.3 1308.2L1677.9 1310.4L1681.5 1312.5L1685.1 1314.7L1688.7 1316.8L1692.4 1318.9L1696 1321L1699.6 1323.1L1703.2 1325.2L1706.8 1327.3L1710.4 1329.4L1714 1331.4L1717.7 1333.5L1721.3 1335.6L1724.9 1337.6L1728.5 1339.6L1732.1 1341.7L1735.7 1343.7L1739.3 1345.7L1743 1347.7L1746.6 1349.7L1750.2 1351.7L1753.8 1353.7L1757.4 1355.7L1761 1357.6L1764.6 1359.6L1768.3 1361.6L1771.9 1363.5L1775.5 1365.4L1779.1 1367.4L1782.7 1369.3L1786.3 1371.2L1789.9 1373.1L1793.6 1375L1797.2 1376.9L1800.8 1378.8L1804.4 1380.6L1808 1382.5L1811.6 1384.4L1815.3 1386.2L1818.9 1388L1822.5 1389.9L1826.1 1391.7L1829.7 1393.5L1833.3 1395.3L1836.9 1397.1L1840.6 1398.9L1844.2 1400.7L1847.8 1402.5L1851.4 1404.2L1855 1406L1858.6 1407.7L1862.2 1409.5L1865.9 1411.2L1869.5 1412.9L1873.1 1414.6L1876.7 1416.4L1880.3 1418.1L1883.9 1419.8L1887.5 1421.4L1891.2 1423.1L1894.8 1424.8L1898.4 1426.5L1902 1428.1L1905.6 1429.8L1909.2 1431.4L1912.8 1433L1916.5 1434.7L1920.1 1436.3L1923.7 1437.9L1927.3 1439.5L1930.9 1441.1L1934.5 1442.7L1938.1 1444.2L1941.8 1445.8L1945.4 1447.4L1949 1448.9L1952.6 1450.5L1956.2 1452L1959.8 1453.5L1963.4 1455.1L1967.1 1456.6L1970.7 1458.1L1974.3 1459.6L1977.9 1461.1L1981.5 1462.6L1985.1 1464.1L1988.7 1465.5L1992.4 1467L1996 1468.5L1999.6 1469.9L2003.2 1471.4L2006.8 1472.8L2010.4 1474.2L2014 1475.7L2017.7 1477.1L2021.3 1478.5L2024.9 1479.9L2028.5 1481.3L2032.1 1482.7L2035.7 1484.1L2039.4 1485.4L2043 1486.8L2046.6 1488.2L2050.2 1489.5L2053.8 1490.9L2057.4 1492.2L2061 1493.5L2064.7 1494.9L2068.3 1496.2L2071.9 1497.5L2075.5 1498.8L2079.1 1500.1L2082.7 1501.4L2086.3 1502.7L2090 1504L2093.6 1505.2L2097.2 1506.5L2100.8 1507.8L2104.4 1509L2108 1510.3L2111.6 1511.5L2115.3 1512.8L2118.9 1514L2122.5 1515.2L2126.1 1516.4L2129.7 1517.6L2133.3 1518.8L2136.9 1520L2140.6 1521.2L2144.2 1522.4L2147.8 1523.6L2151.4 1524.8L2155 1525.9L2158.6 1527.1L2162.2 1528.3L2165.9 1529.4L2169.5 1530.6L2173.1 1531.7L2176.7 1532.8L2180.3 1534L2183.9 1535.1L2187.5 1536.2L2191.2 1537.3L2194.8 1538.4L2198.4 1539.5L2202 1540.6L2205.6 1541.7L2209.2 1542.8L2212.8 1543.8L2216.5 1544.9L2220.1 1546L2223.7 1547L2227.3 1548.1L2230.9 1549.1L2234.5 1550.2L2238.1 1551.2L2241.8 1552.3L2245.4 1553.3L2249 1554.3L2252.6 1555.3L2256.2 1556.3L2259.8 1557.3L2263.4 1558.3L2267.1 1559.3L2270.7 1560.3L2274.3 1561.3L2277.9 1562.3L2281.5 1563.3L2285.1 1564.2L2288.8 1565.2L2292.4 1566.2L2296 1567.1L2299.6 1568.1L2303.2 1569L2306.8 1570L2310.4 1570.9L2314.1 1571.8L2317.7 1572.8L2321.3 1573.7L2324.9 1574.6L2328.5 1575.5L2332.1 1576.4L2335.7 1577.3L2339.4 1578.2L2343 1579.1L2346.6 1580L2350.2 1580.9L2353.8 1581.8L2357.4 1582.6L2361 1583.5L2364.7 1584.4L2368.3 1585.2L2371.9 1586.1L2375.5 1586.9L2379.1 1587.8L2382.7 1588.6L2386.3 1589.5L2390 1590.3L2393.6 1591.1L2397.2 1592L2400.8 1592.8" stroke="#b33300"/>
<path d="M232.1 1776L235.7 1776L239.3 1776L242.9 1776L246.6 1776L250.2 1776L253.8 1776L257.4 1776L261 1776L264.6 1776L268.2 1776L271.9 1776L275.5 1776L279.1 1776L282.7 1776L286.3 1776L289.9 1776L293.5 1776L297.2 1776L300.8 1776L304.4 1776L308 1776L311.6 1776L315.2 1776L318.8 1776L322.5 1776L326.1 1776L329.7 1776L333.3 1776L336.9 1776L340.5 1776L344.1 1776L347.8 1776L351.4 1776L355 1776L358.6 1776L362.2 1776L365.8 1776L369.5 1776L373.1 1776L376.7 1776L380.3 1776L383.9 1776L387.5 1776L391.1 1776L394.8 1775.9L398.4 1775.9L402 1775.9L405.6 1775.8L409.2 1775.8L412.8 1775.7L416.4 1775.5L420.1 1775.4L423.7 1775.2L427.3 1774.9L430.9 1774.6L434.5 1774.3L438.1 1773.8L441.7 1773.3L445.4 1772.6L449 1771.8L452.6 1770.9L456.2 1769.8L459.8 1768.6L463.4 1767.2L467 1765.5L470.7 1763.7L474.3 1761.6L477.9 1759.2L481.5 1756.5L485.1 1753.6L488.7 1750.3L492.3 1746.7L496 1742.8L499.6 1738.4L503.2 1733.7L506.8 1728.6L510.4 1723L514 1717.1L517.6 1710.7L521.3 1703.8L524.9 1696.5L528.5 1688.7L532.1 1680.4L535.7 1671.6L539.3 1662.4L542.9 1652.6L546.6 1642.4L550.2 1631.7L553.8 1620.5L557.4 1608.7L561 1596.6L564.6 1583.9L568.2 1570.7L571.9 1557.1L575.5 1543L579.1 1528.5L582.7 1513.6L586.3 1498.2L589.9 1482.4L593.6 1466.2L597.2 1449.6L600.8 1432.7L604.4 1415.4L608 1397.7L611.6 1379.8L615.2 1361.5L618.9 1343L622.5 1324.2L626.1 1305.1L629.7 1285.8L633.3 1266.3L636.9 1246.6L640.5 1226.7L644.2 1206.7L647.8 1186.5L651.4 1166.2L655 1145.8L658.6 1125.3L662.2 1104.8L665.8 1084.2L669.5 1063.6L673.1 1042.9L676.7 1022.3L680.3 1001.7L683.9 981.1L687.5 960.6L691.1 940.1L694.8 919.7L698.4 899.4L702 879.2L705.6 859.2L709.2 839.2L712.8 819.5L716.4 799.8L720.1 780.4L723.7 761.1L727.3 742.1L730.9 723.2L734.5 704.5L738.1 686.1L741.7 667.9L745.4 649.9L749 632.2L752.6 614.7L756.2 597.5L759.8 580.6L763.4 563.9L767 547.5L770.7 531.4L774.3 515.5L777.9 500L781.5 484.8L785.1 469.8L788.7 455.2L792.3 440.8L796 426.8L799.6 413.1L803.2 399.7L806.8 386.6L810.4 373.8L814 361.3L817.6 349.2L821.3 337.3L824.9 325.8L828.5 314.6L832.1 303.7L835.7 293.1L839.3 282.8L843 272.9L846.6 263.2L850.2 253.9L853.8 244.9L857.4 236.2L861 227.7L864.6 219.6L868.3 211.8L871.9 204.3L875.5 197L879.1 190.1L882.7 183.5L886.3 177.1L889.9 171L893.6 165.2L897.2 159.7L900.8 154.5L904.4 149.5L908 144.8L911.6 140.3L915.2 136.2L918.9 132.2L922.5 128.6L926.1 125.1L929.7 122L933.3 119L936.9 116.3L940.5 113.8L944.2 111.6L947.8 109.6L951.4 107.8L955 106.3L958.6 104.9L962.2 103.8L965.8 102.8L969.5 102.1L973.1 101.6L976.7 101.2L980.3 101.1L983.9 101.2L987.5 101.4L991.1 101.8L994.8 102.4L998.4 103.2L1002 104.1L1005.6 105.2L1009.2 106.5L1012.8 107.9L1016.4 109.5L1020.1 111.3L1023.7 113.2L1027.3 115.2L1030.9 117.4L1034.5 119.7L1038.1 122.2L1041.7 124.7L1045.4 127.5L1049 130.3L1052.6 133.3L1056.2 136.4L1059.8 139.6L1063.4 142.9L1067 146.3L1070.7 149.8L1074.3 153.5L1077.9 157.2L1081.5 161.1L1085.1 165L1088.7 169L1092.4 173.2L1096 177.4L1099.6 181.7L1103.2 186L1106.8 190.5L1110.4 195L1114 199.7L1117.7 204.3L1121.3 209.1L1124.9 213.9L1128.5 218.8L1132.1 223.8L1135.7 228.8L1139.3 233.9L1143 239L1146.6 244.2L1150.2 249.5L1153.8 254.8L1157.4 260.1L1161 265.5L1164.6 271L1168.3 276.4L1171.9 282L1175.5 287.5L1179.1 293.1L1182.7 298.8L1186.3 304.5L1189.9 310.2L1193.6 315.9L1197.2 321.7L1200.8 327.5L1204.4 333.3L1208 339.2L1211.6 345.1L1215.2 351L1218.9 356.9L1222.5 362.9L1226.1 368.8L1229.7 374.8L1233.3 380.8L1236.9 386.8L1240.5 392.9L1244.2 398.9L1247.8 405L1251.4 411L1255 417.1L1258.6 423.2L1262.2 429.3L1265.8 435.4L1269.5 441.5L1273.1 447.6L1276.7 453.7L1280.3 459.8L1283.9 465.9L1287.5 472L1291.1 478.1L1294.8 484.2L1298.4 490.4L1302 496.5L1305.6 502.6L1309.2 508.7L1312.8 514.8L1316.5 520.9L1320.1 527L1323.7 533L1327.3 539.1L1330.9 545.2L1334.5 551.2L1338.1 557.3L1341.8 563.3L1345.4 569.3L1349 575.4L1352.6 581.4L1356.2 587.4L1359.8 593.3L1363.4 599.3L1367.1 605.2L1370.7 611.2L1374.3 617.1L1377.9 623L1381.5 628.9L1385.1 634.8L1388.7 640.7L1392.4 646.5L1396 652.3L1399.6 658.1L1403.2 663.9L1406.8 669.7L1410.4 675.5L1414 681.2L1417.7 686.9L1421.3 692.7L1424.9 698.3L1428.5 704L1432.1 709.6L1435.7 715.3L1439.3 720.9L1443 726.5L1446.6 732L1450.2 737.6L1453.8 743.1L1457.4 748.6L1461 754.1L1464.6 759.5L1468.3 765L1471.9 770.4L1475.5 775.8L1479.1 781.1L1482.7 786.5L1486.3 791.8L1489.9 797.1L1493.6 802.4L1497.2 807.7L1500.8 812.9L1504.4 818.1L1508 823.3L1511.6 828.5L1515.2 833.6L1518.9 838.7L1522.5 843.8L1526.1 848.9L1529.7 853.9L1533.3 859L1536.9 864L1540.5 868.9L1544.2 873.9L1547.8 878.8L1551.4 883.7L1555 888.6L1558.6 893.5L1562.2 898.3L1565.9 903.1L1569.5 907.9L1573.1 912.7L1576.7 917.4L1580.3 922.1L1583.9 926.8L1587.5 931.5L1591.2 936.1L1594.8 940.8L1598.4 945.4L1602 949.9L1605.6 954.5L1609.2 959L1612.8 963.5L1616.5 968L1620.1 972.4L1623.7 976.9L1627.3 981.3L1630.9 985.7L1634.5 990L1638.1 994.4L1641.8 998.7L1645.4 1003L1649 1007.2L1652.6 1011.5L1656.2 1015.7L1659.8 1019.9L1663.4 1024.1L1667.1 1028.2L1670.7 1032.4L1674.3 1036.5L1677.9 1040.5L1681.5 1044.6L1685.1 1048.6L1688.7 1052.7L1692.4 1056.7L1696 1060.6L1699.6 1064.6L1703.2 1068.5L1706.8 1072.4L1710.4 1076.3L1714 1080.2L1717.7 1084L1721.3 1087.8L1724.9 1091.6L1728.5 1095.4L1732.1 1099.1L1735.7 1102.9L1739.3 1106.6L1743 1110.3L1746.6 1113.9L1750.2 1117.6L1753.8 1121.2L1757.4 1124.8L1761 1128.4L1764.6 1131.9L1768.3 1135.5L1771.9 1139L1775.5 1142.5L1779.1 1146L1782.7 1149.4L1786.3 1152.9L1789.9 1156.3L1793.6 1159.7L1797.2 1163.1L1800.8 1166.4L1804.4 1169.8L1808 1173.1L1811.6 1176.4L1815.3 1179.7L1818.9 1182.9L1822.5 1186.2L1826.1 1189.4L1829.7 1192.6L1833.3 1195.8L1836.9 1199L1840.6 1202.1L1844.2 1205.2L1847.8 1208.4L1851.4 1211.5L1855 1214.5L1858.6 1217.6L1862.2 1220.6L1865.9 1223.6L1869.5 1226.6L1873.1 1229.6L1876.7 1232.6L1880.3 1235.5L1883.9 1238.5L1887.5 1241.4L1891.2 1244.3L1894.8 1247.2L1898.4 1250L1902 1252.9L1905.6 1255.7L1909.2 1258.5L1912.8 1261.3L1916.5 1264.1L1920.1 1266.8L1923.7 1269.6L1927.3 1272.3L1930.9 1275L1934.5 1277.7L1938.1 1280.4L1941.8 1283L1945.4 1285.7L1949 1288.3L1952.6 1290.9L1956.2 1293.5L1959.8 1296.1L1963.4 1298.7L1967.1 1301.2L1970.7 1303.8L1974.3 1306.3L1977.9 1308.8L1981.5 1311.3L1985.1 1313.8L1988.7 1316.2L1992.4 1318.7L1996 1321.1L1999.6 1323.5L2003.2 1325.9L2006.8 1328.3L2010.4 1330.7L2014 1333L2017.7 1335.4L2021.3 1337.7L2024.9 1340L2028.5 1342.3L2032.1 1344.6L2035.7 1346.9L2039.4 1349.1L2043 1351.4L2046.6 1353.6L2050.2 1355.9L2053.8 1358.1L2057.4 1360.3L2061 1362.4L2064.7 1364.6L2068.3 1366.8L2071.9 1368.9L2075.5 1371L2079.1 1373.1L2082.7 1375.2L2086.3 1377.3L2090 1379.4L2093.6 1381.5L2097.2 1383.5L2100.8 1385.6L2104.4 1387.6L2108 1389.6L2111.6 1391.6L2115.3 1393.6L2118.9 1395.6L2122.5 1397.6L2126.1 1399.5L2129.7 1401.5L2133.3 1403.4L2136.9 1405.3L2140.6 1407.2L2144.2 1409.1L2147.8 1411L2151.4 1412.9L2155 1414.8L2158.6 1416.6L2162.2 1418.5L2165.9 1420.3L2169.5 1422.1L2173.1 1423.9L2176.7 1425.7L2180.3 1427.5L2183.9 1429.3L2187.5 1431.1L2191.2 1432.8L2194.8 1434.6L2198.4 1436.3L2202 1438L2205.6 1439.7L2209.2 1441.5L2212.8 1443.1L2216.5 1444.8L2220.1 1446.5L2223.7 1448.2L2227.3 1449.8L2230.9 1451.5L2234.5 1453.1L2238.1 1454.7L2241.8 1456.4L2245.4 1458L2249 1459.6L2252.6 1461.2L2256.2 1462.7L2259.8 1464.3L2263.4 1465.9L2267.1 1467.4L2270.7 1469L2274.3 1470.5L2277.9 1472L2281.5 1473.5L2285.1 1475L2288.8 1476.5L2292.4 1478L2296 1479.5L2299.6 1481L2303.2 1482.4L2306.8 1483.9L2310.4 1485.3L2314.1 1486.8L2317.7 1488.2L2321.3 1489.6L2324.9 1491L2328.5 1492.4L2332.1 1493.8L2335.7 1495.2L2339.4 1496.6L2343 1498L2346.6 1499.3L2350.2 1500.7L2353.8 1502L2357.4 1503.4L2361 1504.7L2364.7 1506L2368.3 1507.4L2371.9 1508.7L2375.5 1510L2379.1 1511.3L2382.7 1512.5L2386.3 1513.8L2390 1515.1L2393.6 1516.4L2397.2 1517.6L2400.8 1518.9" stroke="#333300"/>
</g></g>
<path d="M772.4 1776V65.3" stroke="#3a3a3a" stroke-width="2.6" stroke-dasharray="17.8 19.53" fill="none"/>
<path d="M775.1 1776V65.3" stroke="#000" stroke-width="2.8" stroke-dasharray="17.8 19.53" fill="none"/>
<rect x="771" y="67" width="2.5" height="11" fill="#555"/><rect x="773.5" y="67" width="2.5" height="11" fill="#2a2a2a"/>
<path d="M1133.8 1776V65.3" stroke="#3a3a3a" stroke-width="2.6" stroke-dasharray="17.8 19.53" fill="none"/>
<path d="M1136.5 1776V65.3" stroke="#000" stroke-width="2.8" stroke-dasharray="17.8 19.53" fill="none"/>
<rect x="1132.5" y="67" width="2.5" height="11" fill="#555"/><rect x="1135" y="67" width="2.5" height="11" fill="#2a2a2a"/>
<g id="labels" class="sf">
<text class="tk" transform="translate(231.2 1856.7) scale(1 1.045)" text-anchor="middle">0</text>
<text clip-path="url(#c1)" class="tk" transform="translate(411.9 1856.7) scale(1 1.045)" text-anchor="middle">1</text>
<text class="tk" transform="translate(592.7 1856.7) scale(1 1.045)" text-anchor="middle">2</text>
<text class="tk" transform="translate(773.4 1856.7) scale(1 1.045)" text-anchor="middle">3</text>
<text class="tk" transform="translate(954.1 1856.7) scale(1 1.045)" text-anchor="middle">4</text>
<text class="tk" transform="translate(1134.8 1856.7) scale(1 1.045)" text-anchor="middle">5</text>
<text class="tk" transform="translate(1315.5 1856.7) scale(1 1.045)" text-anchor="middle">6</text>
<text class="tk" transform="translate(1496.3 1856.7) scale(1 1.045)" text-anchor="middle">7</text>
<text class="tk" transform="translate(1677 1856.7) scale(1 1.045)" text-anchor="middle">8</text>
<text class="tk" transform="translate(1857.7 1856.7) scale(1 1.045)" text-anchor="middle">9</text>
<text clip-path="url(#c10)" class="tk" transform="translate(2038.5 1856.7) scale(1 1.045)" text-anchor="middle">10</text>
<text clip-path="url(#c11)" class="tk" transform="translate(2219.2 1856.7) scale(1 1.045)" text-anchor="middle">11</text>
<text clip-path="url(#c12)" class="tk" transform="translate(2399.9 1856.7) scale(1 1.045)" text-anchor="middle">12</text>
<text class="tk" transform="translate(209.8 1798.3) scale(1 1.045)" text-anchor="end">0</text>
<text clip-path="url(#c100)" class="tk" transform="translate(209.8 1553.9) scale(1 1.045)" text-anchor="end">100</text>
<text class="tk" transform="translate(209.8 1309.5) scale(1 1.045)" text-anchor="end">200</text>
<text class="tk" transform="translate(209.8 1065.1) scale(1 1.045)" text-anchor="end">300</text>
<text class="tk" transform="translate(209.8 820.8) scale(1 1.045)" text-anchor="end">400</text>
<text class="tk" transform="translate(209.8 576.4) scale(1 1.045)" text-anchor="end">500</text>
<text class="tk" transform="translate(209.8 332) scale(1 1.045)" text-anchor="end">600</text>
<text class="tk" transform="translate(209.8 87.6) scale(1 1.045)" text-anchor="end">700</text>
<text class="lb" transform="translate(1041.4 1941.8) scale(1 1.03)">Wavelength (µm)</text>
<text class="lb" style="font-size:68.45px" transform="translate(82.9 1358.6) rotate(-90) scale(1 1.03)">Radiance (Watt/m2*str*µm)</text>
</g>
<g id="mwir">
<rect x="863.1" y="432.6" width="3" height="87.1" fill="#444"/><rect x="866.1" y="432.6" width="2.8" height="87.1" fill="#000"/><rect x="1070.2" y="432.6" width="2.8" height="87.1" fill="#ccc"/><rect x="1073" y="432.6" width="2.8" height="87.1" fill="#222"/><rect x="863.1" y="432.6" width="212.7" height="2.6" fill="#2c2c2c"/><rect x="863.1" y="435.2" width="212.7" height="2.6" fill="#505050"/><rect x="863.1" y="514.1" width="212.7" height="3" fill="#aaa"/><rect x="863.1" y="517.1" width="212.7" height="2.6" fill="#000"/><rect x="866.1" y="432.6" width="2.8" height="87.1" fill="#000"/><rect x="1073" y="432.6" width="2.8" height="87.1" fill="#222"/>
<text class="an sf" transform="translate(891.8 503.2) scale(1 1.055)" fill="#000">MWIR</text>
</g>
<g id="t600">
<rect x="1293.3" y="985" width="2.8" height="89.7" fill="#bbb"/><rect x="1296.1" y="985" width="2.8" height="89.7" fill="#444"/><rect x="1579" y="985" width="2.9" height="89.7" fill="#111"/><rect x="1296.1" y="985" width="285.8" height="2.8" fill="#2a2a2a"/><rect x="1296.1" y="987.8" width="285.8" height="2" fill="#888"/><rect x="1296.1" y="1069.1" width="285.8" height="3" fill="#7a7a7a"/><rect x="1296.1" y="1072.1" width="285.8" height="2.6" fill="#000"/><rect x="1296.1" y="985" width="2.8" height="89.7" fill="#444"/><rect x="1579" y="985" width="2.9" height="89.7" fill="#111"/>
<text class="an sf" transform="translate(1320.6 1055.6) scale(1 1.055)" fill="#b33300">T=600 K</text>
</g>
<g id="legend">
<rect x="1889" y="109.2" width="465.5" height="385.6" fill="#fdfdfd"/><rect x="1889" y="111.8" width="2.8" height="380" fill="#2a2a2a"/><rect x="1891.8" y="111.8" width="3" height="380" fill="#aaa"/><rect x="2349" y="111.8" width="2.9" height="380" fill="#666"/><rect x="2351.9" y="111.8" width="2.6" height="380" fill="#222"/><rect x="1889" y="109.2" width="465.5" height="2.6" fill="#d4d4d4"/><rect x="1889" y="111.8" width="465.5" height="2.3" fill="#333"/><rect x="1889" y="114.1" width="465.5" height="2.8" fill="#aaa"/><rect x="1889" y="487.1" width="465.5" height="2.6" fill="#c0c0c0"/><rect x="1889" y="489.7" width="465.5" height="2.1" fill="#2a2a2a"/><rect x="1889" y="491.8" width="465.5" height="3" fill="#aaa"/><rect x="1889" y="111.8" width="2.8" height="380" fill="#2a2a2a"/><rect x="2351.9" y="111.8" width="2.6" height="380" fill="#222"/>
<path d="M1918.7 157.3H2071.7" stroke="#ffcccc" stroke-width="9" fill="none"/>
<text class="lg sf" transform="translate(2080.2 179.4) scale(1 1.055)">T = 300 K</text>
<path d="M1918.7 229.5H2071.7" stroke="#ff6666" stroke-width="9" fill="none"/>
<text class="lg sf" transform="translate(2080.2 251.7) scale(1 1.055)">T = 400 K</text>
<path d="M1918.7 301.7H2071.7" stroke="#ff3300" stroke-width="9" fill="none"/>
<text class="lg sf" transform="translate(2080.2 323.9) scale(1 1.055)">T = 500 K</text>
<path d="M1918.7 373.9H2071.7" stroke="#b33300" stroke-width="9" fill="none"/>
<text class="lg sf" transform="translate(2080.2 396.1) scale(1 1.055)">T = 600 K</text>
<path d="M1918.7 446.1H2071.7" stroke="#333300" stroke-width="9" fill="none"/>
<text class="lg sf" transform="translate(2080.2 468.4) scale(1 1.055)">T = 700 K</text>
</g>
</svg>
</body>
</html>
